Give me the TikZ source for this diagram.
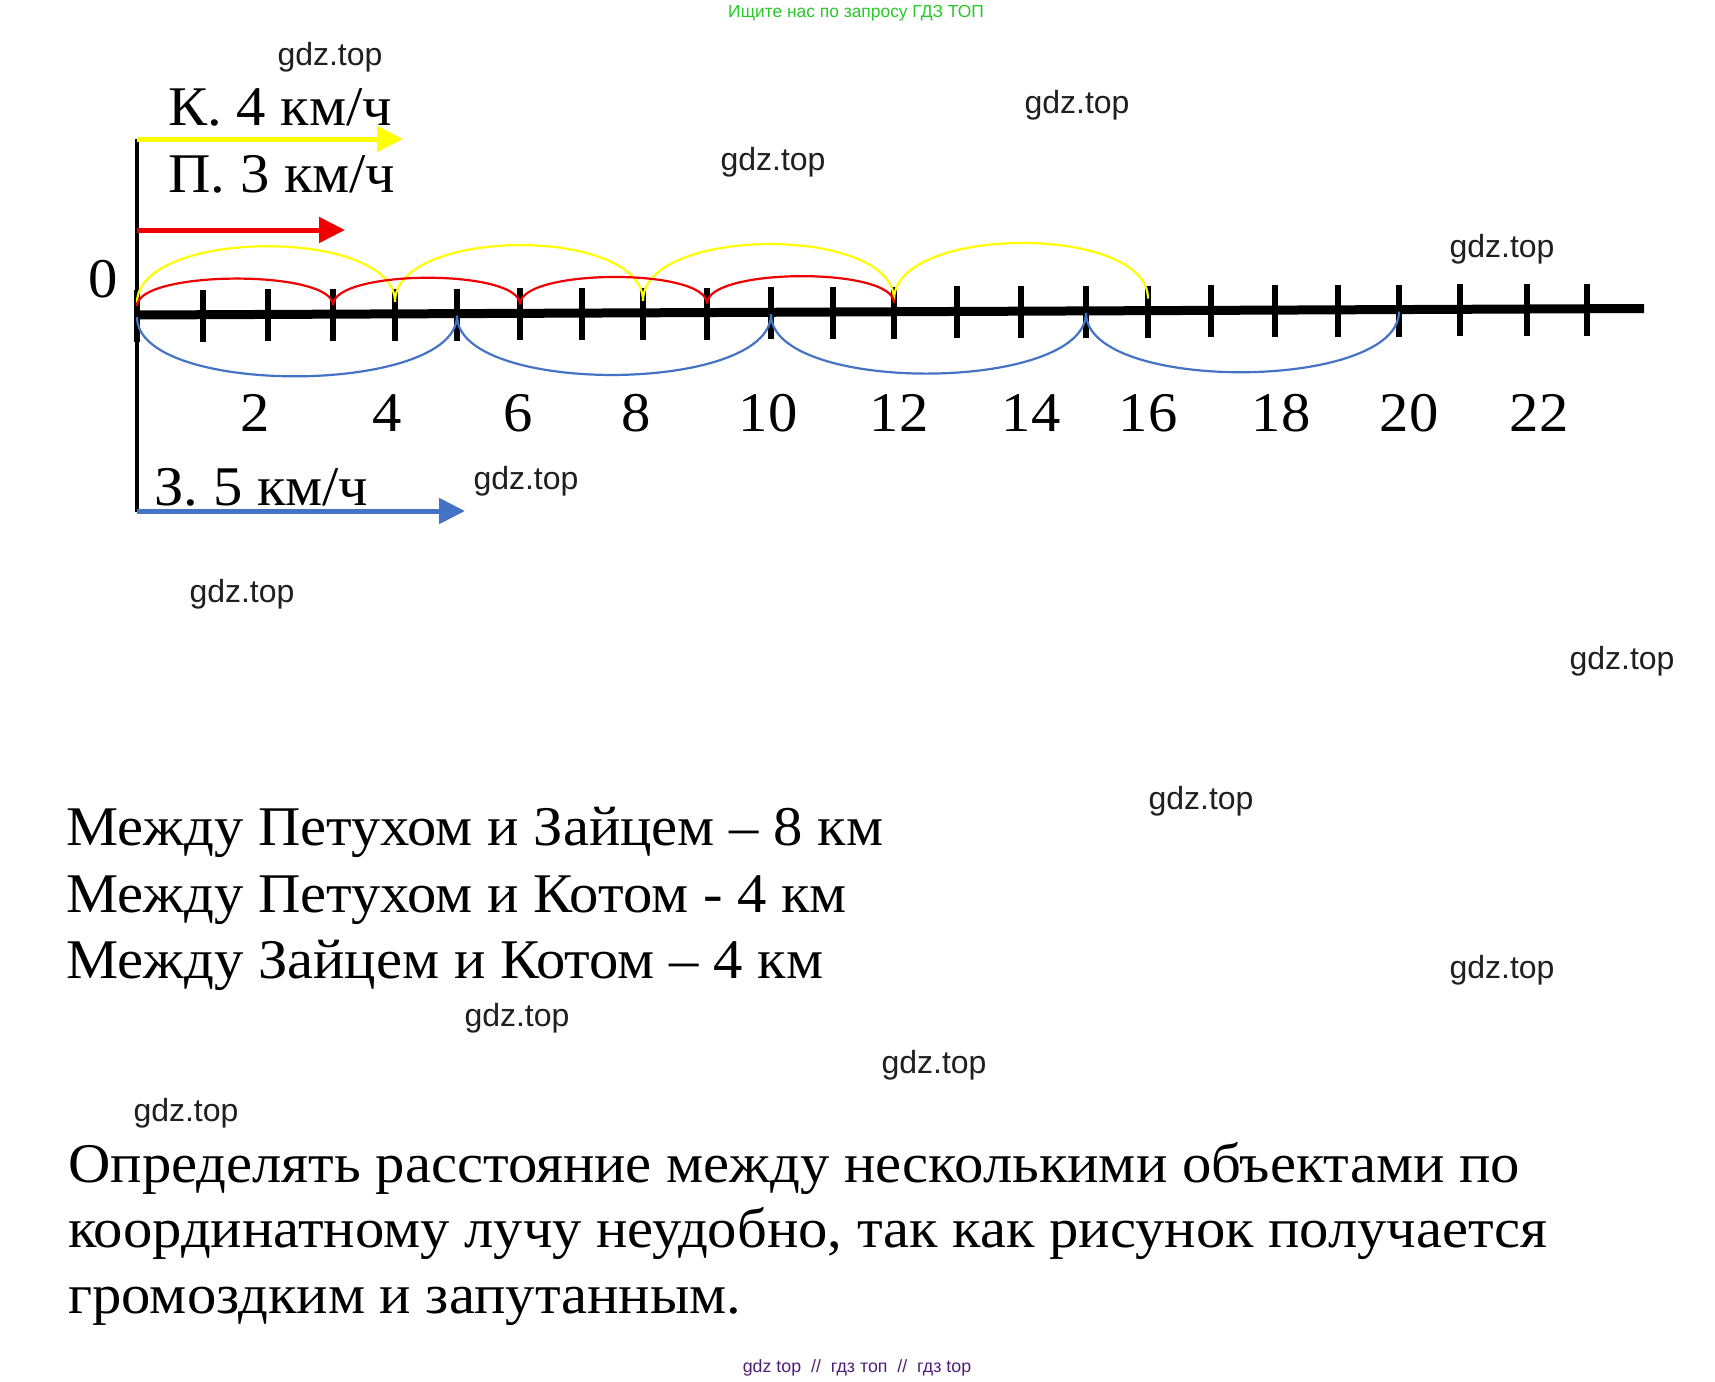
\documentclass[tikz,border=0pt]{standalone}
\usepackage{fontspec}
\setmainfont{Liberation Serif}[FakeStretch=1.047]
\newfontfamily\wmfont{Liberation Sans}
\usetikzlibrary{arrows.meta}

\definecolor{kotcolor}{RGB}{255,255,0}
\definecolor{petcolor}{RGB}{238,0,0}
\definecolor{zaycolor}{RGB}{68,114,196}
\definecolor{topgreen}{RGB}{40,200,40}
\definecolor{botviolet}{RGB}{80,30,120}

\tikzset{
	wm/.style={font=\wmfont\fontsize{16}{16}\selectfont, text=black!88, inner sep=0pt},
	big/.style={font=\fontsize{28}{28}\selectfont, inner sep=0pt},
	speed/.style={line width=2.5pt, -{Triangle[length=13pt, width=12.5pt]}},
	jump/.style={line width=1.1pt},
}

\begin{document}
\begin{tikzpicture}[x=0.5pt, y=-0.5pt]
		\useasboundingbox (0,0) rectangle (1715,1382);

		\coordinate (O) at (137,315);
		\coordinate (Otop) at (137,139);
		\coordinate (Obot) at (137,512);
		\coordinate (E) at (1644,308.5);

		\draw[line width=2.2pt] (Otop) -- (Obot);
		\draw[line width=4.5pt] (O) -- (E);

		% деления координатного луча
		\foreach[count=\i from 0] \x in {137,203,268,333,395,457,520,582,643,707,771,833,894,957,1021,1086,1148,1211,1275,1338,1399,1460,1527,1587} {
                \pgfmathsetmacro\ty{315-(\x-137)*0.0043}
                \coordinate (T\i) at (\x,\ty);
                \coordinate (Y\i) at (\x,\ty-12);
                \coordinate (R\i) at (\x,\ty-9);
                \coordinate (B\i) at (\x,\ty+2);
                \draw[line width=3pt] (\x,\ty-25) -- (\x,\ty+27);
			}

		\node[big] (zero) at (103.5,279.5) {0};
		\foreach \n/\x in {2/255, 4/387, 6/518, 8/636, 10/768, 12/899, 14/1031, 16/1148, 18/1281, 20/1409, 22/1539} {
                \node[big] (N\n) at (\x,413) {\n};
			}

		% прыжки: Кот по 4, Петух по 3, Заяц по 5
		\foreach \a/\b in {0/4, 4/8, 8/12, 12/16} {
                \draw[jump, kotcolor] (Y\a) .. controls +(0,-75) and +(0,-75) .. (Y\b);
			}
		\foreach \a/\b in {0/3, 3/6, 6/9, 9/12} {
                \draw[jump, petcolor] (R\a) .. controls +(0,-36) and +(0,-36) .. (R\b);
			}
		\foreach \a/\b in {0/5, 5/10, 10/15, 15/20} {
                \draw[jump, zaycolor] (B\a) .. controls +(0,80) and +(0,80) .. (B\b);
			}

		\coordinate (Kend) at (403,139);
		\coordinate (Pstart) at (137,230);
		\coordinate (Pend) at (345,230);
		\coordinate (Zstart) at (137,511);
		\coordinate (Zend) at (465,511);

		\draw[speed, kotcolor] (Otop) -- (Kend);
		\draw[speed, petcolor] (Pstart) -- (Pend);
		\draw[speed, zaycolor] (Zstart) -- (Zend);

		\node[big, anchor=base west] (Klab) at (168,125) {К. 4 км/ч};
		\node[big, anchor=base west] (Plab) at (168,192) {П. 3 км/ч};
		\node[big, anchor=base west] (Zlab) at (154,505) {З. 5 км/ч};

		\node[big, anchor=base west] (L1) at (66,845) {Между Петухом и Зайцем – 8 км};
		\node[big, anchor=base west] (L2) at (66,912) {Между Петухом и Котом - 4 км};
		\node[big, anchor=base west] (L3) at (66,978) {Между Зайцем и Котом – 4 км};

		\node[big, anchor=base west] (P1) at (68,1182) {Определять расстояние между несколькими объектами по};
		\node[big, anchor=base west] (P2) at (68,1247) {координатному лучу неудобно, так как рисунок получается};
		\node[big, anchor=base west] (P3) at (68,1313) {громоздким и запутанным.};

		\foreach[count=\i] \x/\y in {
				330/57,
				1077/105,
				773/162,
				1502/249,
				526/481,
				242/594,
				1622/661,
				1201/801,
				1502/970,
				517/1018,
				934/1065,
				186/1113
			} {
                \node[wm] (W\i) at (\x,\y) {gdz.top};
			}

		\node[font=\wmfont\fontsize{8.7}{9}\selectfont, text=topgreen, inner sep=0pt] (head) at (856,13) {Ищите нас по запросу ГДЗ ТОП};
		\node[font=\wmfont\fontsize{8.9}{9}\selectfont, text=botviolet, inner sep=0pt] (foot) at (857,1368) {gdz top\ \ //\ \ гдз топ\ \ //\ \ гдз top};
	\end{tikzpicture}
\end{document}
